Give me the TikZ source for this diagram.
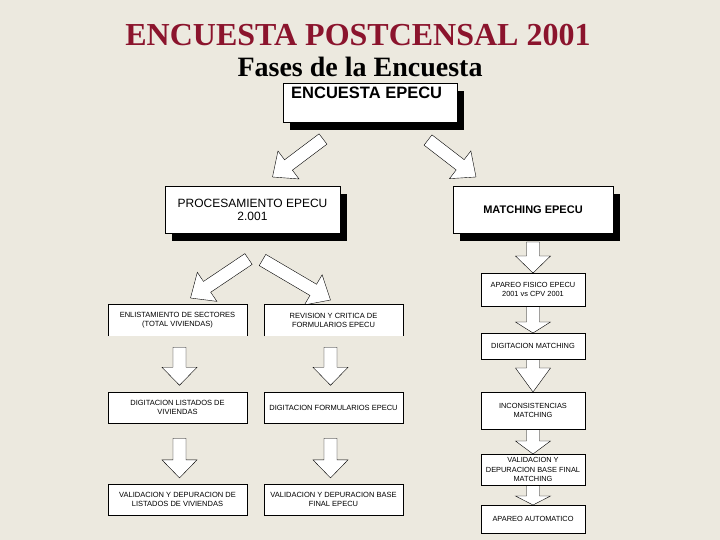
\documentclass[tikz,border=0pt]{standalone}
\usepackage{fontspec}
\setmainfont{Liberation Serif}
\newfontfamily\arial{Liberation Sans}
\usetikzlibrary{calc,shadows}

\definecolor{fondo}{RGB}{236,233,223}
\definecolor{rojotit}{RGB}{139,20,45}

\pgfdeclarelayer{fondocapa}
\pgfsetlayers{fondocapa,main}

% flecha hueca entre dos puntos
\newcommand{\shaftw}{6.5pt}
\newcommand{\headw}{17.5pt}
\newcommand{\blockarrow}[3][18pt]{%
  \coordinate (ba1) at (#2);
  \coordinate (ba2) at (#3);
  \coordinate (bah) at ($(ba2)!#1!(ba1)$);
  \draw[hueca] ($(ba1)!\shaftw!90:(ba2)$) -- ($(bah)!\shaftw!90:(ba2)$)
    -- ($(bah)!\headw!90:(ba2)$) -- (ba2) -- ($(bah)!\headw!-90:(ba2)$)
    -- ($(bah)!\shaftw!-90:(ba2)$) -- ($(ba1)!\shaftw!-90:(ba2)$) -- cycle;
}

\begin{document}
\begin{tikzpicture}[x=1pt,y=-1pt,line width=0.8pt,
  caja/.style={draw,fill=white,align=center,outer sep=0pt,inner sep=1pt,
    font=\arial\fontsize{7.5}{9}\selectfont},
  cajader/.style={caja,minimum width=104,font=\arial\fontsize{7.4}{9.2}\selectfont},
  abierta/.style={caja,draw=none},
  sombra/.style={drop shadow={shadow xshift=7pt,shadow yshift=-8pt,fill=black,opacity=1}},
  hueca/.style={draw=black,fill=white,line join=miter}]

  \begin{pgfonlayer}{fondocapa}
    \fill[fondo] (0,0) rectangle (720,540);
  \end{pgfonlayer}
  \useasboundingbox (0,0) rectangle (720,540);

  % titulos
  \node[anchor=base,text=rojotit,font=\bfseries\fontsize{32}{36}\selectfont] (tit) at (358,46) {ENCUESTA POSTCENSAL 2001};
  \node[anchor=base,font=\bfseries\fontsize{28}{32}\selectfont] (sub) at (360,77) {Fases de la Encuesta};

  % cajas con sombra
  \node[caja,sombra,minimum width=174,minimum height=39] (enc) at (370,102.5) {};
  \node[anchor=north west,inner sep=0pt,font=\arial\bfseries\fontsize{16.5}{18}\selectfont] (enctxt) at ($(enc.north west)+(8,4)$) {ENCUESTA EPECU};
  \node[caja,sombra,minimum width=175,minimum height=47,font=\arial\fontsize{12}{13}\selectfont] (proc) at (252.5,209.5) {PROCESAMIENTO EPECU\\2.001};
  \node[caja,sombra,minimum width=160,minimum height=47,font=\arial\bfseries\fontsize{11}{13}\selectfont] (match) at (533,209.5) {MATCHING EPECU};

  % columna izquierda
  \node[abierta,minimum width=139,minimum height=32] (enl) at (177.5,320) {ENLISTAMIENTO DE SECTORES\\(TOTAL VIVIENDAS)};
  \draw (enl.south west) -- (enl.north west) -- (enl.north east) -- (enl.south east);
  \node[caja,minimum width=139,minimum height=31] (dlv) at (177.5,407.5) {DIGITACION LISTADOS DE\\VIVIENDAS};
  \node[caja,minimum width=139,minimum height=31] (vlv) at (177.5,499.5) {VALIDACION Y DEPURACION DE\\LISTADOS DE VIVIENDAS};

  % columna central
  \node[abierta,minimum width=139,minimum height=32] (rev) at (333.5,320) {REVISION Y CRITICA DE\\FORMULARIOS EPECU};
  \draw (rev.south west) -- (rev.north west) -- (rev.north east) -- (rev.south east);
  \node[caja,minimum width=139,minimum height=31] (dfe) at (333.5,407.5) {DIGITACION FORMULARIOS EPECU};
  \node[caja,minimum width=139,minimum height=31] (vbe) at (333.5,499.5) {VALIDACION Y DEPURACION BASE\\FINAL EPECU};

  % columna derecha
  \node[cajader,minimum height=33] (apf) at (533,289.5) {APAREO FISICO EPECU\\2001 vs CPV 2001};
  \node[cajader,minimum height=26] (dgm) at (533,346) {DIGITACION MATCHING};
  \node[cajader,minimum height=37] (inc) at (533,410.5) {INCONSISTENCIAS\\MATCHING};
  \node[cajader,minimum height=31] (vdm) at (533,469.5) {VALIDACION Y\\DEPURACION BASE FINAL\\MATCHING};
  \node[cajader,minimum height=28] (apa) at (533,519) {APAREO AUTOMATICO};

  % flechas
  \begin{pgfonlayer}{fondocapa}
    \blockarrow[20pt]{$(enc.south)+(-47,17)$}{$(proc.north)+(20,-9)$}
    \blockarrow[20pt]{$(enc.south)+(58,18)$}{$(match.north)+(-57,-9)$}
    \blockarrow[20pt]{$(proc.south)+(-4,26)$}{$(enl.north)+(13,-6)$}
    \blockarrow[20pt]{$(proc.south)+(10,27)$}{$(rev.north)+(-3,-4)$}

    \blockarrow{$(enl.south)!.2!(dlv.north)+(2,0)$}{$(enl.south)!.88!(dlv.north)+(2,0)$}
    \blockarrow{$(dlv.south)!.25!(vlv.north)+(2,0)$}{$(dlv.south)!.9!(vlv.north)+(2,0)$}
    \blockarrow{$(rev.south)!.2!(dfe.north)+(-3,0)$}{$(rev.south)!.88!(dfe.north)+(-3,0)$}
    \blockarrow{$(dfe.south)!.25!(vbe.north)+(-3,0)$}{$(dfe.south)!.9!(vbe.north)+(-3,0)$}

    \blockarrow[17pt]{$(match.south)+(0,9)$}{apf.north}
    \blockarrow[11pt]{apf.south}{dgm.north}
    \blockarrow[24pt]{dgm.south}{inc.north}
    \blockarrow[13pt]{inc.south}{vdm.north}
    \blockarrow[9pt]{vdm.south}{apa.north}
  \end{pgfonlayer}
\end{tikzpicture}
\end{document}
